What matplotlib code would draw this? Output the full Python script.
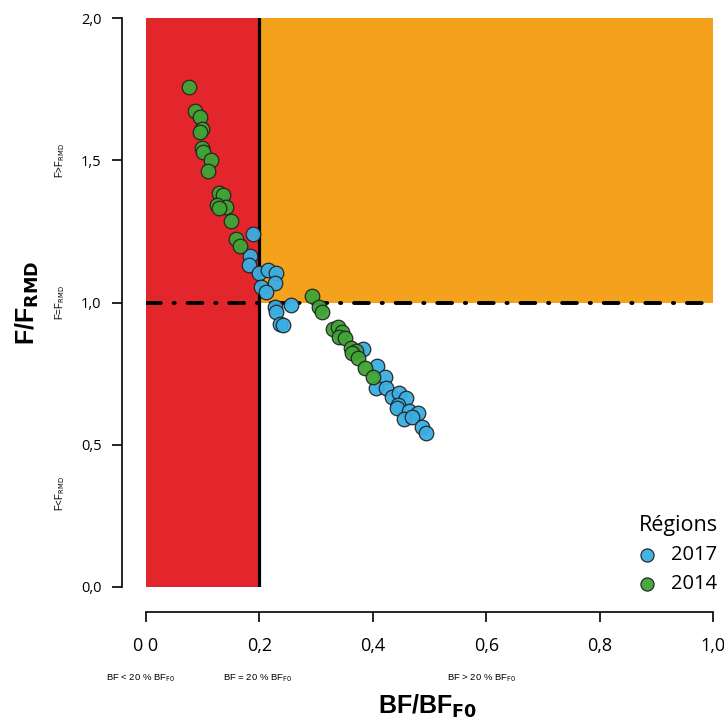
import matplotlib

matplotlib.use("Agg")
import matplotlib.pyplot as plt
from matplotlib.patches import Rectangle

# points
x_2017 = [0.189, 0.183, 0.182, 0.199, 0.215, 0.229, 0.228, 0.203, 0.211, 0.256,
          0.228, 0.230, 0.237, 0.241, 0.382, 0.407, 0.422, 0.406, 0.424, 0.433,
          0.446, 0.459, 0.445, 0.442, 0.463, 0.479, 0.455, 0.469, 0.487, 0.493]
y_2017 = [1.242, 1.165, 1.132, 1.105, 1.114, 1.104, 1.067, 1.056, 1.038, 0.991,
          0.985, 0.968, 0.925, 0.921, 0.837, 0.778, 0.737, 0.700, 0.700, 0.669,
          0.681, 0.663, 0.640, 0.628, 0.620, 0.611, 0.589, 0.599, 0.563, 0.540]

x_2014 = [0.075, 0.086, 0.095, 0.099, 0.095, 0.098, 0.100, 0.115, 0.110, 0.128,
          0.136, 0.125, 0.141, 0.128, 0.150, 0.159, 0.165, 0.293, 0.305, 0.311,
          0.330, 0.338, 0.345, 0.341, 0.351, 0.362, 0.370, 0.364, 0.374, 0.387,
          0.401]
y_2014 = [1.756, 1.673, 1.651, 1.610, 1.599, 1.544, 1.528, 1.501, 1.463, 1.386,
          1.377, 1.343, 1.337, 1.331, 1.288, 1.223, 1.199, 1.023, 0.985, 0.968,
          0.906, 0.915, 0.897, 0.878, 0.874, 0.839, 0.831, 0.821, 0.804, 0.769,
          0.739]

x_ticks = [0.0, 0.2, 0.4, 0.6, 0.8, 1.0]
x_ticklabels = ["0 0", "0,2", "0,4", "0,6", "0,8", "1,0"]
y_ticks = [0.0, 0.5, 1.0, 1.5, 2.0]
y_ticklabels = ["0,0", "0,5", "1,0", "1,5", "2,0"]

RED = "#e3262b"
ORANGE = "#f4a21c"
BLUE = "#3aaee2"
GREEN = "#3fa535"
NARROW = ["Liberation Sans Narrow", "Liberation Sans", "DejaVu Sans"]

plt.rcParams["font.family"] = ["Open Sans", "DejaVu Sans"]

W, H = 724, 718
fig = plt.figure(figsize=(W / 100, H / 100), dpi=100)
ax = fig.add_axes([146 / W, (H - 587) / H, (713 - 146) / W, (587 - 18) / H])
ax.set_xlim(0, 1)
ax.set_ylim(0, 2)

# zones
ax.add_patch(Rectangle((0, 0), 0.2, 2, color=RED, lw=0, zorder=0))
ax.add_patch(Rectangle((0.2, 1), 0.8, 1, color=ORANGE, lw=0, zorder=0))
ax.plot([0.2, 0.2], [0, 2], color="black", lw=2.3, zorder=1)
ax.plot([0, 1], [1, 1], color="black", lw=2.8, zorder=1,
        linestyle=(0, (3.8, 3.3, 0.3, 3.3)), dash_capstyle="round")

ax.scatter(x_2017, y_2017, s=110, color=BLUE, edgecolor="#222222", lw=0.9,
           alpha=0.95, zorder=3, label="2017")
ax.scatter(x_2014, y_2014, s=110, color=GREEN, edgecolor="#222222", lw=0.9,
           alpha=0.95, zorder=4, label="2014")

# detached R-style axes
for side in ("top", "right"):
    ax.spines[side].set_visible(False)
ax.spines["left"].set_position(("outward", 17))
ax.spines["bottom"].set_position(("outward", 18))
ax.spines["left"].set_linewidth(1.2)
ax.spines["bottom"].set_linewidth(1.2)
ax.set_xticks(x_ticks, x_ticklabels)
ax.set_yticks(y_ticks, y_ticklabels)
ax.tick_params(axis="y", length=7, width=1.2, labelsize=10.5, pad=8)
ax.tick_params(axis="x", length=7, width=1.2, labelsize=13, pad=11)

# axis titles and zone labels
fig.text(27 / W, 1 - 303 / H, r"F/F$_{\mathbf{RMD}}$", rotation=90, ha="center",
         va="center", fontsize=18, fontweight="bold", family=NARROW)
fig.text(428 / W, 1 - 706 / H, r"BF/BF$_{\mathbf{F0}}$", ha="center", va="center",
         fontsize=18, fontweight="bold", family=NARROW)

side_labels = [(1.5, r"F>F$_{\mathrm{RMD}}$"), (1.0, r"F=F$_{\mathrm{RMD}}$"), (0.33, r"F<F$_{\mathrm{RMD}}$")]
for yv, txt in side_labels:
    ax.text(-0.152, yv, txt, rotation=90, ha="center", va="center", fontsize=7,
            transform=ax.transData, clip_on=False, family=NARROW)

bottom_labels = [(141, r"BF < 20 % BF$_{\mathrm{F0}}$"), (258, r"BF = 20 % BF$_{\mathrm{F0}}$"),
                 (482, r"BF > 20 % BF$_{\mathrm{F0}}$")]
for xp, txt in bottom_labels:
    fig.text(xp / W, 1 - 678 / H, txt, ha="center", va="center", fontsize=6.8,
             family=NARROW)

leg = ax.legend(title="Régions", loc="lower right", bbox_to_anchor=(1.04, -0.045),
                frameon=False, fontsize=14.5, title_fontsize=15.5, markerscale=0.9,
                handletextpad=0.6, labelspacing=0.45, handlelength=1.2)
leg._legend_box.align = "right"

fig.savefig("out.png", dpi=100)
